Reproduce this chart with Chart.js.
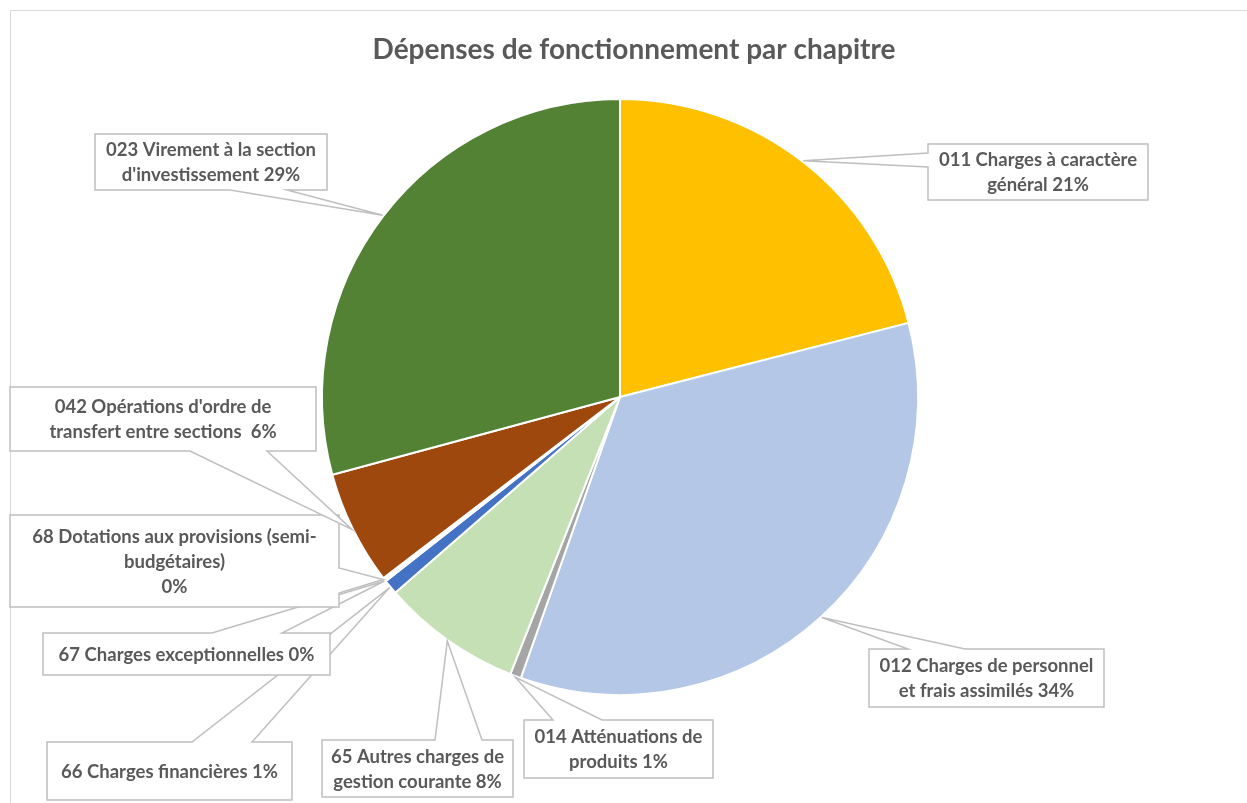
<!DOCTYPE html>
<html lang="fr">
<head>
<meta charset="utf-8">
<title>Dépenses de fonctionnement par chapitre</title>
<script src="https://cdn.jsdelivr.net/npm/chart.js@4.4.1/dist/chart.umd.min.js"></script>
<style>
  html, body { margin: 0; padding: 0; background: #fff; }
  #wrap { position: relative; width: 1247px; height: 803px; }
</style>
</head>
<body>
<div id="wrap"><canvas id="chart"></canvas></div>
<script>
const chartTitle = "Dépenses de fonctionnement par chapitre";

// label lines for each chapter, the percent goes on the last line
const categories = [
    ["011 Charges à caractère", "général"],
    ["012 Charges de personnel", "et frais assimilés"],
    ["014 Atténuations de", "produits"],
    ["65 Autres charges de", "gestion courante"],
    ["66 Charges financières"],
    ["67 Charges exceptionnelles"],
    ["68 Dotations aux provisions (semi-", "budgétaires)", ""],
    ["042 Opérations d'ordre de", "transfert entre sections "],
    ["023 Virement à la section", "d'investissement"],
];

// share of the operating budget, in %
const shares = [21.0, 34.4, 0.6, 7.6, 0.8, 0.1, 0.1, 6.2, 29.2];

const colors = ["#FFC000", "#B4C7E7", "#A5A5A5", "#C5E0B4", "#4472C4", "#70AD47", "#255E91", "#9E480E", "#548235"];

// callout boxes (x, y, w, h) and where the pointer leaves the box
const callouts = [
    { box: [928, 144, 220, 56], side: "left", base: [153, 167] },
    { box: [869, 649, 235, 58], side: "top", base: [908, 965] },
    { box: [524, 720, 189, 58], side: "top", base: [553, 602] },
    { box: [322, 740, 191, 57], side: "top", base: [435, 482] },
    { box: [47, 742, 245, 58], side: "top", base: [192, 252] },
    { box: [43, 633, 287, 42], side: "top", base: [212, 282] },
    { box: [10, 515, 329, 92], side: "right", base: [568, 593] },
    { box: [10, 387, 306, 64], side: "bottom", base: [190, 267] },
    { box: [95, 134, 232, 56], side: "bottom", base: [230, 287] },
];

const textColor = "#595959";

function calloutPath(ctx, c, ax, ay) {
    const [x, y, w, h] = c.box;
    const r = x + w, b = y + h;
    const [p, q] = c.base;
    ctx.beginPath();
    ctx.moveTo(x, y);
    if (c.side === "top") { ctx.lineTo(p, y); ctx.lineTo(ax, ay); ctx.lineTo(q, y); }
    ctx.lineTo(r, y);
    if (c.side === "right") { ctx.lineTo(r, p); ctx.lineTo(ax, ay); ctx.lineTo(r, q); }
    ctx.lineTo(r, b);
    if (c.side === "bottom") { ctx.lineTo(q, b); ctx.lineTo(ax, ay); ctx.lineTo(p, b); }
    ctx.lineTo(x, b);
    if (c.side === "left") { ctx.lineTo(x, q); ctx.lineTo(ax, ay); ctx.lineTo(x, p); }
    ctx.closePath();
}

// frame + title
const framePlugin = {
    id: "frame",
    beforeDraw(chart) {
        const ctx = chart.ctx;
        ctx.save();
        ctx.fillStyle = "#fff";
        ctx.fillRect(0, 0, chart.width, chart.height);
        ctx.strokeStyle = "#D9D9D9";
        ctx.lineWidth = 1;
        ctx.beginPath();
        ctx.moveTo(10.5, chart.height);
        ctx.lineTo(10.5, 10.5);
        ctx.lineTo(chart.width, 10.5);
        ctx.stroke();

        ctx.fillStyle = textColor;
        ctx.font = "bold 28px Lato";
        ctx.textAlign = "center";
        ctx.textBaseline = "alphabetic";
        ctx.fillText(chartTitle, 634, 59);
        ctx.restore();
    },
};

// Excel-like callouts pointing at each slice
const calloutPlugin = {
    id: "callouts",
    afterDatasetsDraw(chart) {
        const ctx = chart.ctx;
        const meta = chart.getDatasetMeta(0);
        const total = shares.reduce((a, b) => a + b, 0);

        ctx.save();
        meta.data.forEach((arc, i) => {
            const c = callouts[i];
            const p = arc.getProps(["x", "y", "startAngle", "endAngle", "outerRadius"], true);
            const mid = (p.startAngle + p.endAngle) / 2;
            const ax = p.x + Math.cos(mid) * (p.outerRadius + 1);
            const ay = p.y + Math.sin(mid) * (p.outerRadius + 1);

            calloutPath(ctx, c, ax, ay);
            ctx.fillStyle = "#fff";
            ctx.fill();
            ctx.strokeStyle = "#BFBFBF";
            ctx.lineWidth = 1.5;
            ctx.lineJoin = "miter";
            ctx.stroke();

            const lines = categories[i].slice();
            const pct = Math.round(shares[i] / total * 100) + "%";
            const last = lines[lines.length - 1];
            lines[lines.length - 1] = last ? last + " " + pct : pct;

            const [x, y, w, h] = c.box;
            const lh = 25;
            ctx.fillStyle = textColor;
            ctx.font = "bold 18.5px Lato";
            ctx.textAlign = "center";
            ctx.textBaseline = "middle";
            lines.forEach((t, k) => {
                ctx.fillText(t, x + w / 2, y + h / 2 + (k - (lines.length - 1) / 2) * lh + 1);
            });
        });
        ctx.restore();
    },
};

let chart;

function renderChart() {
    const ctx = document.getElementById("chart").getContext("2d");

    chart = new Chart(ctx, {
        type: "pie",
        data: {
            labels: categories,
            datasets: [
                {
                    data: shares,
                    backgroundColor: colors,
                    borderColor: "#fff",
                    borderWidth: 2,
                },
            ],
        },
        options: {
            responsive: true,
            maintainAspectRatio: false,
            animation: false,
            radius: 298,
            layout: { padding: { left: 0, right: 7, top: 91, bottom: 100 } },
            plugins: {
                legend: { display: false },
                tooltip: { enabled: false },
                title: { display: false },
            },
        },
        plugins: [framePlugin, calloutPlugin],
    });
}

if (document.fonts && document.fonts.load) {
    Promise.all([document.fonts.load("bold 18.5px Lato"), document.fonts.load("bold 28px Lato")])
        .then(renderChart, renderChart);
} else {
    renderChart();
}
</script>
</body>
</html>
